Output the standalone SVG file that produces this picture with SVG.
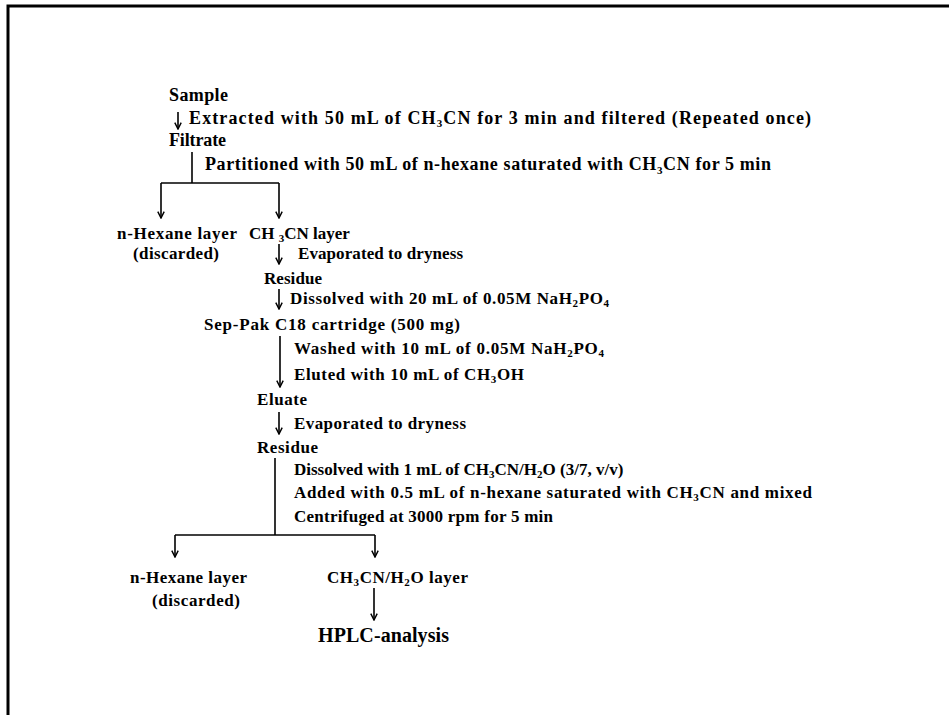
<svg xmlns="http://www.w3.org/2000/svg" width="949" height="715" viewBox="0 0 949 715">
<style>
text{font-family:"Liberation Serif","Times New Roman",serif;font-weight:bold;font-size:17px;fill:#000}
.l{font-size:18px}
.big{font-size:20px}
.sub{font-size:11px}
.ln{stroke:#000;stroke-width:1.6;fill:none}
</style>
<defs>
<marker id="ah" markerWidth="9" markerHeight="8" refX="9" refY="5" orient="auto" markerUnits="userSpaceOnUse" viewBox="0 0 10 10">
<path d="M1,1 L9,5 L1,9" fill="none" stroke="#000" stroke-width="1.8"/>
</marker>
</defs>
<rect width="949" height="715" fill="#fff"/>
<path d="M8,715 V6 H949" fill="none" stroke="#000" stroke-width="3"/>
<g id="connectors">
<line class="ln" x1="178" y1="112" x2="178" y2="129" marker-end="url(#ah)"/>
<line class="ln" x1="192" y1="152" x2="192" y2="183"/>
<line class="ln" x1="161" y1="183" x2="279" y2="183"/>
<line class="ln" x1="161" y1="183" x2="161" y2="218" marker-end="url(#ah)"/>
<line class="ln" x1="279" y1="183" x2="279" y2="218" marker-end="url(#ah)"/>
<line class="ln" x1="279" y1="244" x2="279" y2="264" marker-end="url(#ah)"/>
<line class="ln" x1="279" y1="289" x2="279" y2="309" marker-end="url(#ah)"/>
<line class="ln" x1="280" y1="336" x2="280" y2="387" marker-end="url(#ah)"/>
<line class="ln" x1="279" y1="412" x2="279" y2="434" marker-end="url(#ah)"/>
<line class="ln" x1="275" y1="458" x2="275" y2="535"/>
<line class="ln" x1="175" y1="535" x2="375" y2="535"/>
<line class="ln" x1="175" y1="535" x2="175" y2="557" marker-end="url(#ah)"/>
<line class="ln" x1="375" y1="535" x2="375" y2="557" marker-end="url(#ah)"/>
<line class="ln" x1="374" y1="588" x2="374" y2="620" marker-end="url(#ah)"/>
</g>
<g id="labels">
<text class="l" x="189" y="124" textLength="622">Extracted with 50 mL  of CH<tspan class="sub" dy="3">3</tspan><tspan dy="-3">CN for 3 min and filtered (Repeated once)</tspan></text>
<text class="l" x="205" y="170" textLength="566">Partitioned with 50 mL of n-hexane saturated with CH<tspan class="sub" dy="4">3</tspan><tspan dy="-4">CN for 5 min</tspan></text>
<text x="298" y="259" textLength="165">Evaporated to dryness</text>
<text x="290" y="304" textLength="319">Dissolved with 20 mL of 0.05M NaH<tspan class="sub" dy="3">2</tspan><tspan dy="-3">PO</tspan><tspan class="sub" dy="3">4</tspan></text>
<text x="294" y="354" textLength="310">Washed with 10 mL of 0.05M NaH<tspan class="sub" dy="3">2</tspan><tspan dy="-3">PO</tspan><tspan class="sub" dy="3">4</tspan></text>
<text x="294" y="380" textLength="230">Eluted with 10 mL of CH<tspan class="sub" dy="3">3</tspan><tspan dy="-3">OH</tspan></text>
<text x="294" y="429" textLength="172">Evaporated to dryness</text>
<text x="294" y="475">Dissolved with 1 mL of CH<tspan class="sub" dy="3">3</tspan><tspan dy="-3">CN/H</tspan><tspan class="sub" dy="3">2</tspan><tspan dy="-3">O (3/7, v/v)</tspan></text>
<text x="294" y="498" textLength="518">Added with 0.5 mL of n-hexane saturated with CH<tspan class="sub" dy="3">3</tspan><tspan dy="-3">CN and mixed</tspan></text>
<text x="294" y="522" textLength="259">Centrifuged at 3000 rpm for 5 min</text>
</g>
<g id="n-sample"><text class="l" x="169" y="101" textLength="59">Sample</text></g>
<g id="n-filtrate"><text class="l" x="169" y="146" textLength="57">Filtrate</text></g>
<g id="n-hexane1"><text x="117" y="239" textLength="120">n-Hexane layer</text><text x="133" y="259" textLength="86">(discarded)</text></g>
<g id="n-ch3cn"><text x="249" y="239">CH <tspan class="sub" dy="3">3</tspan><tspan dy="-3">CN layer</tspan></text></g>
<g id="n-residue1"><text x="264" y="284" textLength="58">Residue</text></g>
<g id="n-seppak"><text x="204" y="330" textLength="256">Sep-Pak C18 cartridge (500 mg)</text></g>
<g id="n-eluate"><text x="257" y="405" textLength="50">Eluate</text></g>
<g id="n-residue2"><text x="257" y="453" textLength="61">Residue</text></g>
<g id="n-hexane2"><text x="130" y="583" textLength="117">n-Hexane layer</text><text x="152" y="606" textLength="88">(discarded)</text></g>
<g id="n-aq"><text x="327" y="583" textLength="141">CH<tspan class="sub" dy="3">3</tspan><tspan dy="-3">CN/H</tspan><tspan class="sub" dy="3">2</tspan><tspan dy="-3">O layer</tspan></text></g>
<g id="n-hplc"><text class="big" x="318" y="642" textLength="131">HPLC-analysis</text></g>
</svg>
